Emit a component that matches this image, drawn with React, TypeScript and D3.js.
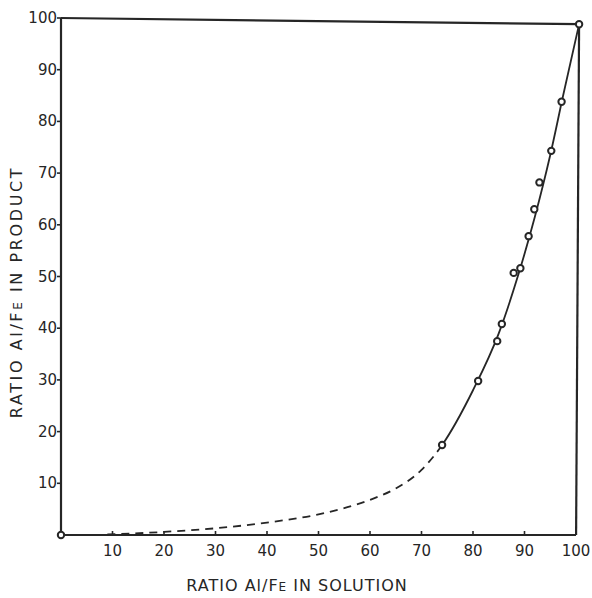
import * as d3 from "d3";
import { useEffect } from "react";

// measured points (ratio Al/Fe in solution vs in product)
const pointX = [0, 74, 81, 84.7, 85.6, 87.9, 89.2, 90.8, 91.9, 92.9, 95.2, 97.2, 100.6];
const pointY = [0, 17.4, 29.8, 37.5, 40.8, 50.7, 51.6, 57.8, 63.0, 68.2, 74.3, 83.8, 98.8];

// fitted curve; dashed (extrapolated) below the first measured point, solid above
const curveX = [9, 20, 30, 40, 50, 60, 65, 70, 74, 80, 85, 89, 92, 95, 97.5, 100.6];
const curveY = [0.1, 0.6, 1.3, 2.4, 4.0, 6.8, 9.0, 12.6, 17.4, 28, 39, 51, 61.5, 73.5, 85, 98.8];
const dashEnd = 74;

const xTicks = [10, 20, 30, 40, 50, 60, 70, 80, 90, 100];
const yTicks = [10, 20, 30, 40, 50, 60, 70, 80, 90, 100];

const width = 592;
const height = 598;
const ink = "#262626";
const font = "'DejaVu Sans', sans-serif";

export default function App() {
  useEffect(() => {
    document.body.style.margin = "0";
  }, []);

  const x = d3.scaleLinear([0, 100], [61, 576]);
  const y = d3.scaleLinear([0, 100], [535, 18]);
  const curve =
    d3
      .line<number>((d) => x(d), (d, i) => y(curveY[i]))
      .curve(d3.curveMonotoneX)(curveX) || "";

  const last = pointX.length - 1;

  return (
    <svg width={width} height={height} style={{ display: "block", background: "#fff" }}>
      <defs>
        <clipPath id="lo">
          <rect x={0} y={0} width={x(dashEnd)} height={height} />
        </clipPath>
        <clipPath id="hi">
          <rect x={x(dashEnd)} y={0} width={width} height={height} />
        </clipPath>
      </defs>
      <g stroke={ink} fill="none" strokeWidth={2.2}>
        {/* axes */}
        <line x1={x(0)} x2={x(100)} y1={y(0)} y2={y(0)} />
        <line x1={x(0)} x2={x(0)} y1={y(0)} y2={y(100)} />
        {/* frame to last point */}
        <line x1={x(0)} x2={x(pointX[last])} y1={y(100)} y2={y(pointY[last])} />
        <line x1={x(pointX[last])} x2={x(pointX[last]) - 3} y1={y(pointY[last])} y2={y(0)} />
      </g>
      <g stroke={ink} strokeWidth={1.6}>
        {xTicks.slice(0, -1).map((t) => (
          <line key={t} x1={x(t)} x2={x(t)} y1={y(0)} y2={y(0) - 4} />
        ))}
        {yTicks.map((t) => (
          <line key={t} x1={x(0)} x2={x(0) - 4} y1={y(t)} y2={y(t)} />
        ))}
      </g>
      <g fill={ink} fontFamily={font} fontSize={15}>
        {xTicks.map((t) => (
          <text key={t} x={x(t)} y={y(0) + 21} textAnchor="middle">
            {t}
          </text>
        ))}
        {yTicks.map((t) => (
          <text key={t} x={x(0) - 4} y={y(t) + 5} textAnchor="end">
            {t}
          </text>
        ))}
      </g>
      <path d={curve} clipPath="url(#lo)" fill="none" stroke={ink} strokeWidth={1.8} strokeDasharray="8 6" />
      <path d={curve} clipPath="url(#hi)" fill="none" stroke={ink} strokeWidth={1.8} />
      <g fill="#fff" stroke={ink} strokeWidth={2}>
        {pointX.map((px, i) => (
          <circle key={i} cx={x(px)} cy={y(pointY[i])} r={3.2} />
        ))}
      </g>
      <text
        x={297}
        y={591}
        textAnchor="middle"
        fontFamily={font}
        fontSize={16}
        fontWeight={500}
        fill={ink}
        letterSpacing={1}
      >
        RATIO Al/F<tspan fontSize={12}>E</tspan> IN SOLUTION
      </text>
      <text
        transform={`translate(22,292) rotate(-90)`}
        textAnchor="middle"
        fontFamily={font}
        fontSize={16}
        fill={ink}
        letterSpacing={2.6}
      >
        RATIO Al/F<tspan fontSize={12}>E</tspan> IN PRODUCT
      </text>
    </svg>
  );
}
